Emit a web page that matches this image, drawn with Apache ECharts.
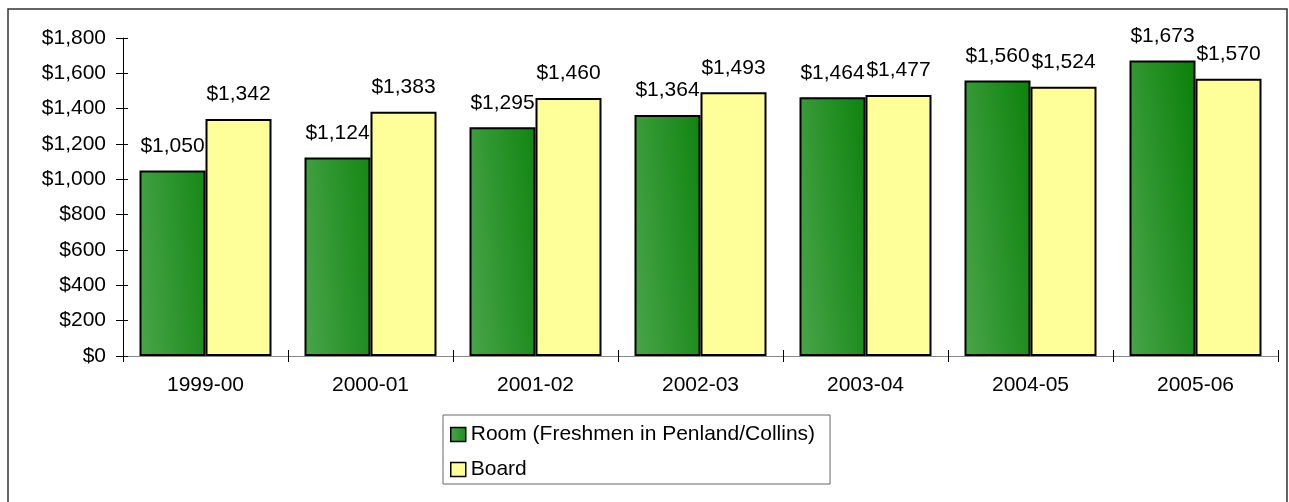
<!DOCTYPE html>
<html>
<head>
<meta charset="utf-8">
<style>
  html, body { margin: 0; padding: 0; background: #fff; }
  #chart { width: 1289px; height: 502px; }
</style>
<script src="https://cdn.jsdelivr.net/npm/echarts@6/dist/echarts.min.js"></script>
</head>
<body>
<div id="chart"></div>
<script>
// Academic years
const years = ['1999-00', '2000-01', '2001-02', '2002-03', '2003-04', '2004-05', '2005-06'];
// Room charge (freshmen in Penland/Collins), dollars
const roomCost = [1050, 1124, 1295, 1364, 1464, 1560, 1673];
// Board charge, dollars
const boardCost = [1342, 1383, 1460, 1493, 1477, 1524, 1570];
// Value axis range
const yMin = 0, yMax = 1800, yStep = 200;

const FONT = '"Liberation Sans", Arial, sans-serif';
const money = v => '$' + Number(v).toLocaleString('en-US');

const chart = echarts.init(document.getElementById('chart'), null, { renderer: 'canvas' });

const greenFill = new echarts.graphic.LinearGradient(0, 1, 1.5, 0.96, [
  { offset: 0, color: '#49a549' },
  { offset: 1, color: '#0a800a' }
]);

const barLabel = {
  show: true,
  position: 'top',
  distance: 14,
  color: '#000',
  fontFamily: FONT,
  fontSize: 21,
  formatter: p => money(p.value)
};

chart.setOption({
  animation: false,
  backgroundColor: '#fff',
  textStyle: { fontFamily: FONT },
  graphic: [{
    type: 'rect',
    shape: { x: 8, y: 9, width: 1279, height: 600 },
    style: { fill: 'none', stroke: '#333', lineWidth: 1.5 },
    silent: true
  }],
  grid: { left: 123, right: 11, top: 38, bottom: 146 },
  legend: {
    orient: 'vertical',
    left: 443,
    top: 415,
    padding: [9, 15, 4, 7],
    itemGap: 14,
    itemWidth: 15,
    itemHeight: 14,
    borderColor: '#666',
    borderWidth: 1,
    backgroundColor: '#fff',
    icon: 'rect',
    selectedMode: false,
    textStyle: { color: '#000', fontFamily: FONT, fontSize: 21 },
    itemStyle: { borderColor: '#000', borderWidth: 1.5 },
    data: ['Room (Freshmen in Penland/Collins)', 'Board']
  },
  xAxis: [{
    type: 'category',
    data: years,
    boundaryGap: true,
    axisLine: { lineStyle: { color: '#888', width: 1 } },
    axisTick: { show: true, inside: false, length: 6, lineStyle: { color: '#000' } },
    axisLabel: { color: '#000', fontFamily: FONT, fontSize: 21, margin: 19 },
    splitLine: { show: false }
  }, {
    type: 'category',
    data: years,
    position: 'bottom',
    boundaryGap: true,
    axisLine: { show: false },
    axisTick: { show: true, inside: true, length: 6, lineStyle: { color: '#000' } },
    axisLabel: { show: false },
    splitLine: { show: false }
  }],
  yAxis: [{
    type: 'value',
    min: yMin,
    max: yMax,
    interval: yStep,
    axisLine: { show: true, lineStyle: { color: '#000', width: 1 } },
    axisTick: { show: true, inside: false, length: 7, lineStyle: { color: '#000' } },
    axisLabel: { color: '#000', fontFamily: FONT, fontSize: 21, margin: 17, formatter: money },
    splitLine: { show: false }
  }, {
    type: 'value',
    position: 'left',
    min: yMin,
    max: yMax,
    interval: yStep,
    axisLine: { show: false },
    axisTick: { show: true, inside: true, length: 5, lineStyle: { color: '#000' } },
    axisLabel: { show: false },
    splitLine: { show: false }
  }],
  series: [{
    name: 'Room (Freshmen in Penland/Collins)',
    type: 'bar',
    data: roomCost,
    barWidth: 66,
    barGap: '0%',
    itemStyle: { color: greenFill, borderColor: '#000', borderWidth: 2 },
    label: barLabel
  }, {
    name: 'Board',
    type: 'bar',
    data: boardCost,
    barWidth: 66,
    barGap: '0%',
    itemStyle: { color: '#ffff99', borderColor: '#000', borderWidth: 2 },
    label: barLabel
  }]
});
</script>
</body>
</html>
